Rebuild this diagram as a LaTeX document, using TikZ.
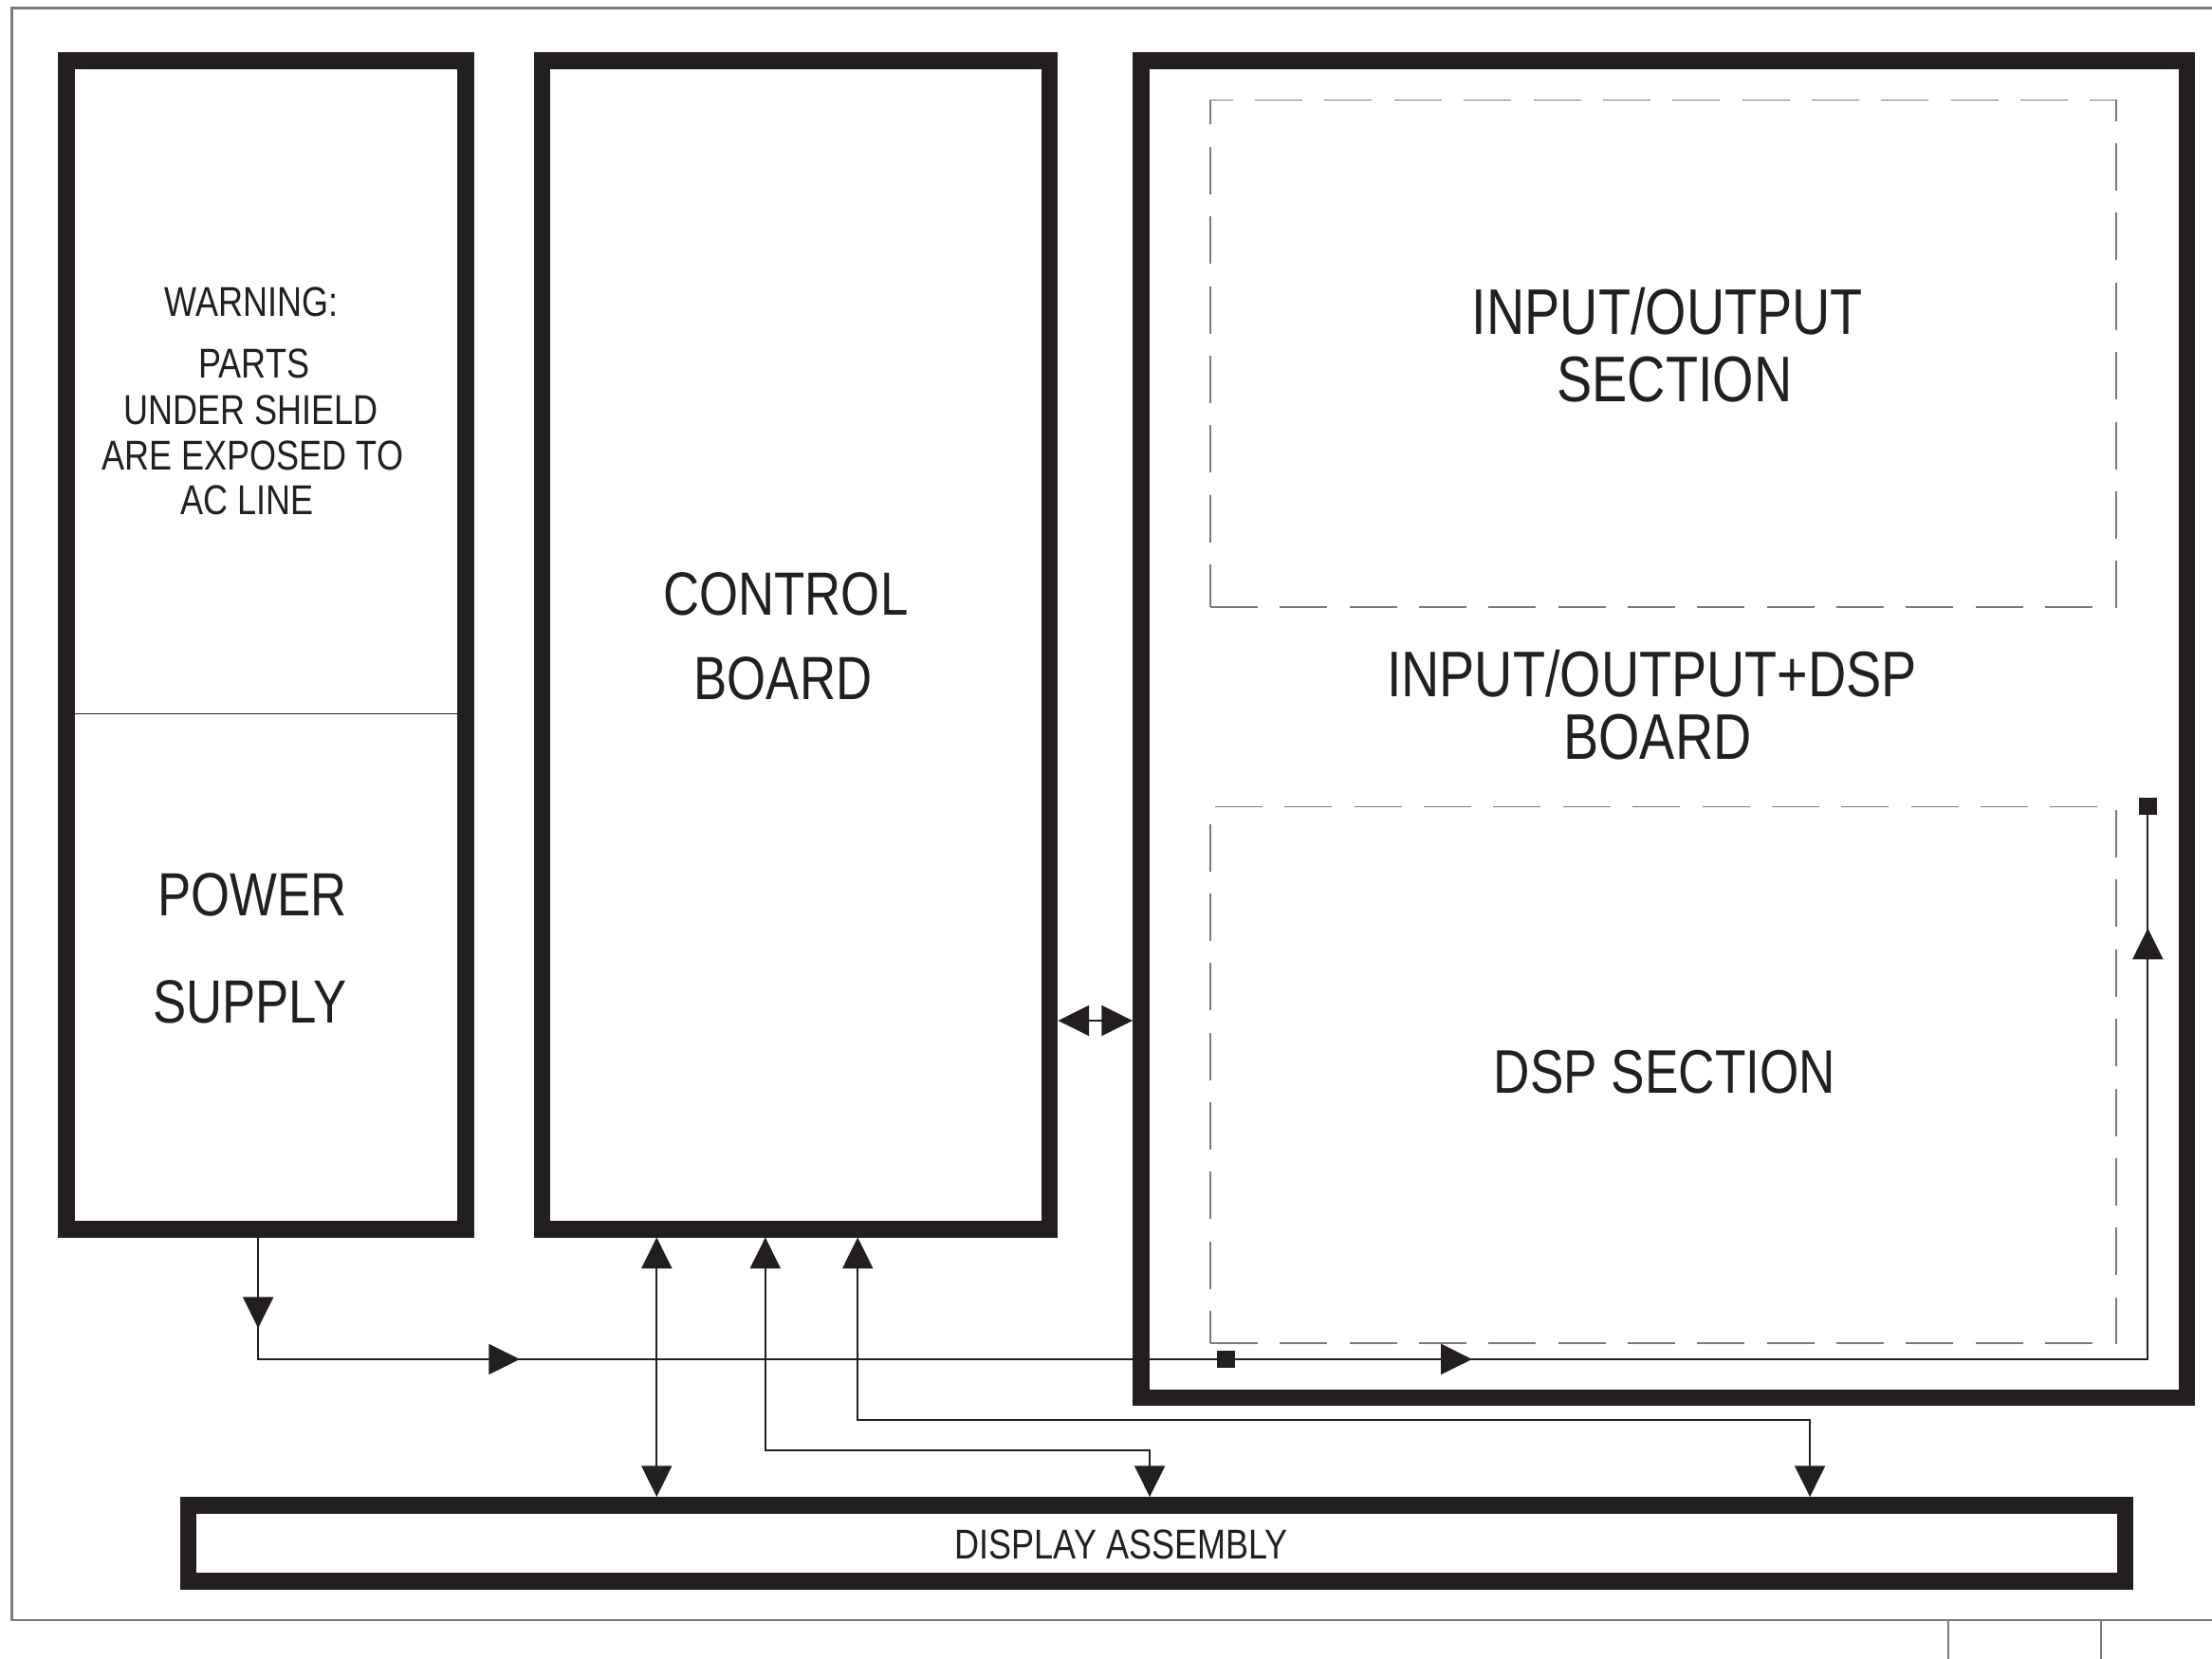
\documentclass[tikz,border=0pt]{standalone}
\usepackage{fontspec}
\setmainfont{Liberation Sans}[FakeStretch=0.82]
\usetikzlibrary{arrows.meta}
\definecolor{ink}{HTML}{231F20}
\definecolor{framegray}{HTML}{7A7A7A}
\begin{document}
\begin{tikzpicture}[x=0.01cm,y=-0.01cm,
  board/.style={draw=ink, line width=0.118cm, rectangle, inner sep=0pt, outer sep=0.059cm},
  section/.style={draw=framegray, line width=0.35pt, dash pattern=on 0.336cm off 0.157cm, rectangle, inner sep=0pt},
  conn/.style={draw=ink, line width=0.35pt},
  tip/.style={-{Triangle[length=0.22cm,width=0.215cm]}},
  tips/.style={{Triangle[length=0.22cm,width=0.215cm]}-{Triangle[length=0.22cm,width=0.215cm]}},
  framel/.style={draw=framegray, line width=0.45pt},
  junction/.style={fill=ink, rectangle, inner sep=0pt, minimum size=0.125cm},
  lbl/.style={anchor=base, inner sep=0pt, text=ink},
  small/.style={font=\fontsize{8.4}{10}\selectfont},
  big/.style={font=\fontsize{12.3}{14}\selectfont},
  large/.style={font=\fontsize{13}{15}\selectfont}
]
\useasboundingbox (0,0) rectangle (1568,1176);
\fill[white] (0,0) rectangle (1568,1176);

% outer frame
\draw[framel] (1568,5.6) -- (8.5,5.6) -- (8.5,1148.5) -- (1568,1148.5);
\draw[framel] (1381,1148.5) -- (1381,1176);
\draw[framel] (1489.5,1148.5) -- (1489.5,1176);

% boards
\node[board, minimum width=2.83cm, minimum height=8.277cm] (ps) at (188.5,457.15) {};
\node[board, minimum width=3.595cm, minimum height=8.277cm] (cb) at (564.25,457.15) {};
\node[board, minimum width=7.41cm, minimum height=9.472cm] (iob) at (1179.5,516.9) {};
\node[board, minimum width=13.72cm, minimum height=0.54cm] (disp) at (820,1094) {};

% sections
\node[section, minimum width=6.42cm, minimum height=3.59cm] (ios) at (1179,250.5) {};
\node[section, minimum width=6.42cm, minimum height=3.80cm] (dsps) at (1179,762) {};

% divider in power supply
\draw[conn] (ps.west |- 0,506) -- (ps.east |- 0,506);

% texts
\node[lbl,small] (w1) at (178,224) {WARNING:};
\node[lbl,small] (w2) at (180,268) {PARTS};
\node[lbl,small] (w3) at (178,301) {UNDER SHIELD};
\node[lbl,small] (w4) at (179,333) {ARE EXPOSED TO};
\node[lbl,small] (w5) at (175,365) {AC LINE};
\node[lbl,big] (p1) at (179,649) {POWER};
\node[lbl,big] (p2) at (177,725) {SUPPLY};
\node[lbl,big] (c1) at (557,436) {CONTROL};
\node[lbl,big] (c2) at (555,496) {BOARD};
\node[lbl,large] (i1) at (1182,237) {INPUT/OUTPUT};
\node[lbl,large] (i2) at (1187,285) {SECTION};
\node[lbl,large] (b1) at (1171,494) {INPUT/OUTPUT+DSP};
\node[lbl,large] (b2) at (1175,538) {BOARD};
\node[lbl,font=\fontsize{12.4}{14}\selectfont] (d1) at (1180,775) {DSP SECTION};
\node[lbl,font=\fontsize{8.4}{10}\selectfont] (da) at (795,1105) {DISPLAY ASSEMBLY};

% control board <-> I/O board
\draw[conn,tips] (cb.east |- 0,723.5) -- (iob.west |- 0,723.5);

% power distribution line
\node[junction] (sq1) at (869,963.5) {};
\node[junction] (sq2) at (1522.5,571.5) {};
\coordinate (pturn) at (183,963.5);
\coordinate (pcorner) at (1522.5,963.5);
\draw[conn] (ps.south -| 183,0) -- (pturn) -- (pcorner) -- (sq2.center);
\draw[conn,tip] (ps.south -| 183,0) -- (183,941.5);
\draw[conn,tip] (pturn) -- (368.5,963.5);
\draw[conn,tip] (pturn) -- (1043.5,963.5);
\draw[conn,tip] (pcorner) -- (1522.5,658);

% control board <-> display
\draw[conn,tips] (cb.south -| 465.5,0) -- (disp.north -| 465.5,0);
\draw[conn,tips] (cb.south -| 542.5,0) -- (542.5,1028) -- (815,1028) -- (disp.north -| 815,0);
\draw[conn,tips] (cb.south -| 608,0) -- (608,1006.5) -- (1283,1006.5) -- (disp.north -| 1283,0);
\end{tikzpicture}
\end{document}
